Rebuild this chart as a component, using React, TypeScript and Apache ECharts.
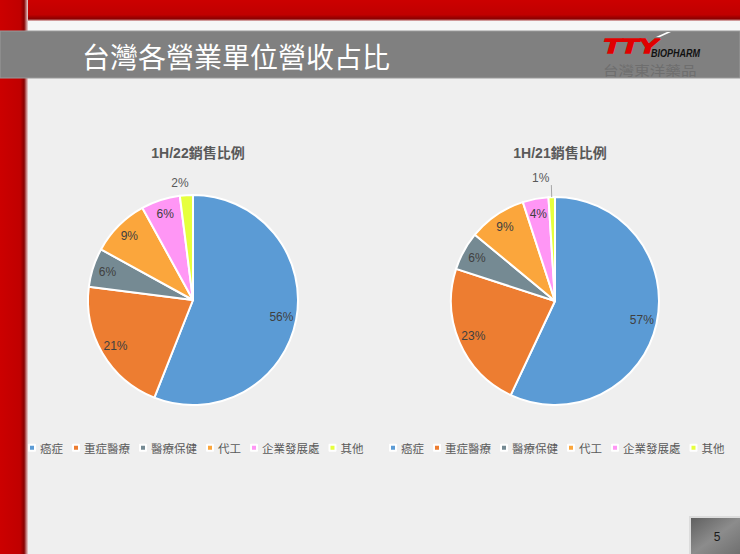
import React, { useEffect, useRef } from "react";
import * as echarts from "echarts";

const categories = ["癌症", "重症醫療", "醫療保健", "代工", "企業發展處", "其他"];
const share1H22 = [56, 21, 6, 9, 6, 2];
const share1H21 = [57, 23, 6, 9, 4, 1];
const chartTitles = ["1H/22銷售比例", "1H/21銷售比例"];
const slideTitle = "台灣各營業單位營收占比";
const pageNumber = "5";
const palette = ["#5B9BD5", "#ED7D31", "#758A93", "#FBA63C", "#FF96F5", "#E6FF3D"];

const LATIN = "'Liberation Sans', Arial, 'Noto Sans CJK TC', sans-serif";
const CJK = "'Noto Sans CJK TC', 'Noto Sans CJK SC', sans-serif";

function pieSeries(values: number[], center: number[], r: number, lastLine: boolean) {
  const last = categories.length - 1;
  const main = {
    type: "pie",
    center,
    radius: r,
    startAngle: 90,
    clockwise: true,
    color: palette,
    silent: true,
    z: 2,
    label: { show: false },
    labelLine: { show: false },
    itemStyle: { borderColor: "#ffffff", borderWidth: 2 },
    data: categories.map((n, i) => ({ name: n, value: values[i] })),
  };
  const overlay = {
    type: "pie",
    center,
    radius: [r - 36, r],
    startAngle: 90,
    clockwise: true,
    silent: true,
    legendHoverLink: false,
    avoidLabelOverlap: false,
    minShowLabelAngle: 0,
    z: 3,
    itemStyle: { color: "rgba(0,0,0,0)", borderWidth: 0 },
    label: {
      show: true,
      position: "inside",
      formatter: "{c}%",
      color: "#404040",
      fontSize: 12,
      fontFamily: LATIN,
    },
    labelLine: { show: false },
    data: categories.map((n, i) =>
      i === last
        ? {
            name: n,
            value: values[i],
            label: {
              position: "outside",
              color: "#595959",
              formatter: lastLine ? "{c}%\n " : "{c}%",
              lineHeight: 14,
              distanceToLabelLine: lastLine ? 2 : -3,
            },
            labelLine: {
              show: lastLine,
              length: 12,
              length2: 0,
              lineStyle: { color: "#a6a6a6", width: 1 },
            },
          }
        : { name: n, value: values[i] }
    ),
  };
  return [main, overlay];
}

function legendFor(left: number) {
  return {
    left,
    top: 442,
    padding: 0,
    orient: "horizontal",
    icon: "rect",
    itemWidth: 6,
    itemHeight: 6,
    itemGap: 9,
    selectedMode: false,
    textStyle: { color: "#595959", fontSize: 11.5, fontFamily: CJK },
    data: categories.map((n, i) => ({ name: n, itemStyle: { color: palette[i] } })),
  };
}

export default function App() {
  const ref = useRef<HTMLDivElement>(null);
  useEffect(() => {
    if (!ref.current) return;
    const chart = echarts.init(ref.current, undefined, { renderer: "svg" });
    const titleStyle = { color: "#595959", fontSize: 14, fontWeight: "bold", fontFamily: LATIN };
    const option: any = {
      animation: false,
      backgroundColor: "#efefef",
      title: [
        { text: chartTitles[0], left: 193, top: 141, textAlign: "center", textStyle: titleStyle },
        { text: chartTitles[1], left: 555, top: 141, textAlign: "center", textStyle: titleStyle },
      ],
      legend: [legendFor(28), legendFor(389)],
      graphic: [
        {
          type: "rect",
          z: 0,
          silent: true,
          shape: { x: 0, y: 0, width: 740, height: 21 },
          style: {
            fill: new echarts.graphic.LinearGradient(0, 0, 0, 1, [
              { offset: 0, color: "#cc0000" },
              { offset: 0.7, color: "#c00000" },
              { offset: 0.9, color: "#8a0000" },
              { offset: 1, color: "#e6c8c8" },
            ]),
          },
        },
        {
          type: "rect",
          z: 0,
          silent: true,
          shape: { x: 0, y: 0, width: 28, height: 554 },
          style: {
            fill: new echarts.graphic.LinearGradient(0, 0, 1, 0, [
              { offset: 0, color: "#cc0000" },
              { offset: 0.72, color: "#c00000" },
              { offset: 0.86, color: "#880000" },
              { offset: 1, color: "#ecd8d8" },
            ]),
          },
        },
        {
          type: "rect",
          z: 1,
          silent: true,
          shape: { x: 28, y: 21, width: 712, height: 10 },
          style: { fill: "#f6f6f6" },
        },
        {
          type: "rect",
          z: 1,
          silent: true,
          shape: { x: 0, y: 31, width: 740, height: 47 },
          style: { fill: "#808080", stroke: "#9a9a9a", lineWidth: 1 },
        },
        {
          type: "text",
          z: 2,
          silent: true,
          x: 82,
          y: 56,
          style: {
            text: slideTitle,
            fill: "#ffffff",
            fontSize: 28,
            fontFamily: CJK,
            verticalAlign: "middle",
          },
        },
        {
          type: "text",
          z: 2,
          silent: true,
          x: 603,
          y: 46,
          scaleY: 0.72,
          originY: 0,
          style: {
            text: "TTY",
            fill: "#e00000",
            stroke: "#e00000",
            lineWidth: 2,
            fontSize: 29,
            fontWeight: "bold",
            fontStyle: "italic",
            fontFamily: LATIN,
            verticalAlign: "middle",
          },
        },
        {
          type: "polygon",
          z: 3,
          silent: true,
          shape: { points: [[656, 37], [667, 32], [671, 32], [660, 37]] },
          style: { fill: "#ffffff" },
        },
        {
          type: "text",
          z: 2,
          silent: true,
          x: 651,
          y: 53,
          scaleX: 0.82,
          originX: 0,
          style: {
            text: "BIOPHARM",
            fill: "#111111",
            fontSize: 11,
            fontWeight: "bold",
            fontStyle: "italic",
            fontFamily: LATIN,
            verticalAlign: "middle",
          },
        },
        {
          type: "text",
          z: 2,
          silent: true,
          x: 603,
          y: 69,
          scaleX: 1.2,
          originX: 0,
          style: {
            text: "台灣東洋藥品",
            fill: "#6e6e6e",
            fontSize: 13,
            fontFamily: CJK,
            verticalAlign: "middle",
          },
        },
        {
          type: "rect",
          z: 1,
          silent: true,
          shape: { x: 689, y: 516, width: 52, height: 39 },
          style: { fill: "#dcdcdc" },
        },
        {
          type: "rect",
          z: 2,
          silent: true,
          shape: { x: 691, y: 518, width: 50, height: 37 },
          style: {
            fill: new echarts.graphic.LinearGradient(0, 0, 1, 1, [
              { offset: 0, color: "#606060" },
              { offset: 0.5, color: "#8c8c8c" },
              { offset: 1, color: "#6e6e6e" },
            ]),
          },
        },
        {
          type: "text",
          z: 3,
          silent: true,
          x: 717,
          y: 537,
          style: {
            text: pageNumber,
            fill: "#1a1a1a",
            fontSize: 12,
            fontFamily: LATIN,
            align: "center",
            verticalAlign: "middle",
          },
        },
      ],
      series: [
        ...pieSeries(share1H22, [193, 300], 105, false),
        ...pieSeries(share1H21, [555, 301], 104, true),
      ],
    };
    chart.setOption(option);
    return () => chart.dispose();
  }, []);
  return (
    <div
      ref={ref}
      style={{ position: "fixed", left: 0, top: 0, width: 740, height: 554 }}
    />
  );
}
